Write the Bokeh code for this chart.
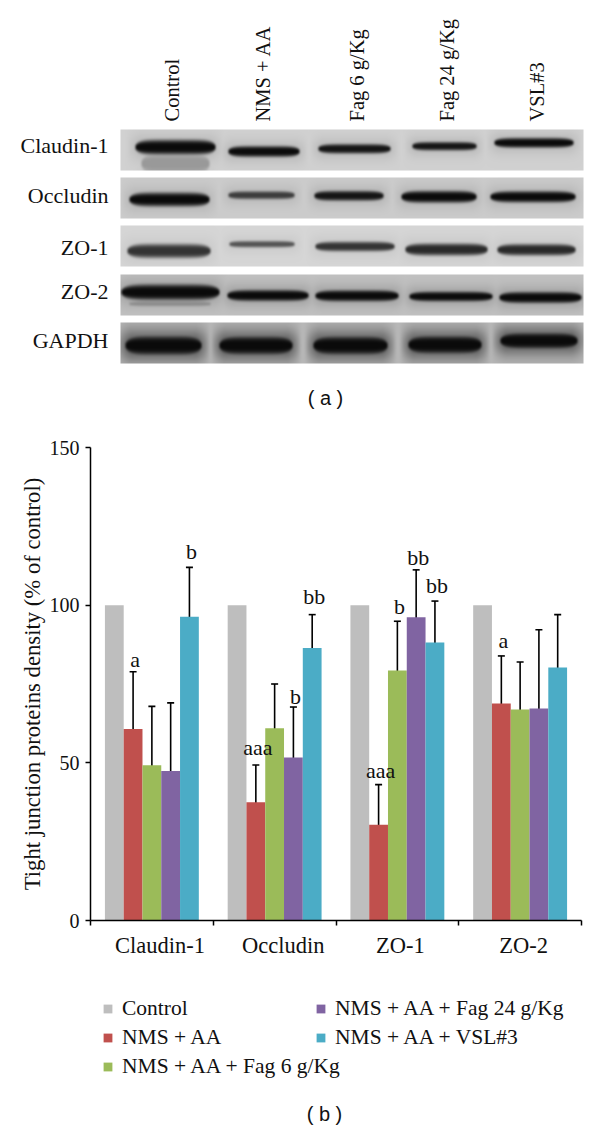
import numpy as np
from bokeh.plotting import figure
from bokeh.layouts import column
from bokeh.embed import file_html
from bokeh.resources import INLINE
from bokeh.core.properties import value
from bokeh.models import (Range1d, FixedTicker, Whisker, TeeHead, ColumnDataSource,
                          Legend, LegendItem)

# ---- chart (b) data
groups = ["Claudin-1", "Occludin", "ZO-1", "ZO-2"]
series = ["Control", "NMS + AA", "NMS + AA + Fag 6 g/Kg", "NMS + AA + Fag 24 g/Kg", "NMS + AA + VSL#3"]
colors = ["#BEBEBE", "#C0504D", "#9BBB59", "#8064A2", "#4BACC6"]
control = [100, 100, 100, 100]
nms_aa = [60.7, 37.5, 30.4, 68.8]
fag6 = [49.2, 61.0, 79.3, 66.9]
fag24 = [47.4, 51.7, 96.2, 67.2]
vsl3 = [96.3, 86.4, 88.2, 80.2]
err_high_nms = [78.9, 49.3, 43.1, 83.9]
err_high_fag6 = [67.9, 75.0, 94.9, 82.0]
err_high_fag24 = [69.0, 67.7, 111.2, 92.2]
err_high_vsl3 = [112.0, 97.0, 101.3, 97.0]
err_low_nms = [59.9, 36.5, 29.5, 67.8]
err_low_fag6 = [48.2, 60.1, 78.3, 66.0]
err_low_fag24 = [46.7, 50.9, 95.2, 66.1]
err_low_vsl3 = [95.4, 85.4, 87.2, 79.3]
# significance letters: group index, series index, letter, baseline height
sig_group = [0, 0, 1, 1, 1, 2, 2, 2, 2, 3]
sig_series = [1, 4, 1, 3, 4, 1, 2, 3, 4, 1]
sig_text = ["a", "b", "aaa", "b", "bb", "aaa", "b", "bb", "bb", "a"]
sig_y = [80.6, 114.7, 52.5, 68.7, 100.4, 45.4, 97.5, 112.8, 104.0, 86.6]
y_ticks = [0, 50, 100, 150]
group_label_pos = [0.567, 1.571, 2.525, 3.529]
group_edges = [0, 1, 2, 3, 4]

# ---- panel (a) data
lane_names = ["Control", "NMS + AA", "Fag 6 g/Kg", "Fag 24 g/Kg", "VSL#3"]
lane_x = [171, 262, 356, 446, 536]
protein_names = ["Claudin-1", "Occludin", "ZO-1", "ZO-2", "GAPDH"]
protein_y = [145, 195, 247, 291, 340]
panel_top = [129, 177, 225, 274, 322]
panel_bg = [0.82, 0.80, 0.84, 0.76, 0.72]
panel_halo = [0.12, 0.12, 0.08, 0.18, 0.55]
# x0, x1, y centre, half thickness, strength
bands_claudin = [(137, 213, 146.7, 6.5, 1.0), (230, 297, 151, 4.5, 1), (320, 388, 148.3, 3.8, .95),
                 (414, 474, 145.7, 3.3, .95), (496, 571, 142.3, 4, 1), (143, 207, 163, 9, .28)]
bands_occludin = [(131, 207, 199, 6, 1), (230, 292, 194.7, 3, .75), (316, 381, 195.3, 4, .95),
                  (403, 474, 196.3, 5, 1), (492, 573, 196.3, 4.7, 1)]
bands_zo1 = [(129, 208, 250.5, 6, .8), (231, 292, 243.7, 2.2, .65), (317, 392, 246, 3.8, .8),
             (407, 485, 249, 5, .85), (499, 573, 249.3, 4.7, .85)]
bands_zo2 = [(123, 217, 291.7, 7, 1), (229, 306, 295, 4.7, 1), (317, 396, 295.3, 4.7, 1),
             (411, 490, 296, 4, 1), (501, 579, 297, 4.7, 1), (131, 208, 303.3, 1.5, .3)]
bands_gapdh = [(127, 199, 345, 9.5, 1), (221, 290, 345, 9, 1), (315, 385, 345, 9, 1),
               (410, 479, 344.3, 8.7, 1), (502, 575, 340.3, 7.7, 1)]
all_bands = [bands_claudin, bands_occludin, bands_zo1, bands_zo2, bands_gapdh]

SERIF = "Liberation Serif"
SANS = "Liberation Sans"
PAGE_W = 584
TOP_H = 430
CHART_H = 545
LEG_H = 150

# ---- top figure: blot panel, drawn in page pixels
top = figure(width=PAGE_W, height=TOP_H, x_range=Range1d(0, PAGE_W), y_range=Range1d(0, TOP_H),
             output_backend="svg", toolbar_location=None, min_border=0)
top.frame_align = False
top.axis.visible = False
top.grid.visible = False
top.outline_line_color = None
def py(v):
    return TOP_H - v

def soften(a, passes=2):
    kernel = np.array([1, 2, 1]) / 4
    for _ in range(passes):
        a = np.apply_along_axis(lambda r: np.convolve(np.pad(r, 1, mode="edge"), kernel, mode="valid"), 0, a)
        a = np.apply_along_axis(lambda r: np.convolve(np.pad(r, 1, mode="edge"), kernel, mode="valid"), 1, a)
    return a

PANEL_X0, PANEL_W, PANEL_H = 120, 463, 41
for ptop, bg, halo_s, bands in zip(panel_top, panel_bg, panel_halo, all_bands):
    xs = np.arange(PANEL_W) + PANEL_X0 + 0.5
    ys = np.arange(PANEL_H) + ptop + 0.5
    X, Y = np.meshgrid(xs, ys)
    d = np.zeros_like(X)
    for x0, x1, yc, ht, s in bands:
        xc, hw = (x0 + x1) / 2, (x1 - x0) / 2 + 2
        taper = np.sqrt(np.clip(1 - np.abs((X - xc) / hw) ** 6, 0, 1))
        sy = np.exp(-(np.abs(Y - yc) / (ht * taper + 1.0)) ** 4) * (taper > 0)
        halo = np.exp(-(np.abs(Y - yc) / (ht + 7)) ** 2) * halo_s * np.clip(1.3 - np.abs((X - xc) / (hw + 6)) ** 4, 0, 1)
        d = np.maximum(d, np.maximum(s * sy, s * halo))
    img = bg * (1 - d) + 0.04 * d
    img = soften(img)
    g = (img * 255).astype(np.uint32)
    rgba = (255 << 24) | (g << 16) | (g << 8) | g
    top.image_rgba(image=[rgba[::-1]], x=PANEL_X0, y=py(ptop + PANEL_H), dw=PANEL_W, dh=PANEL_H)

top.text(x=[108] * 5, y=[py(v) for v in protein_y], text=protein_names, text_font=value(SERIF),
         text_font_size="22px", text_align="right", text_baseline="middle", text_color="#111111")
top.text(x=lane_x, y=[py(121)] * 5, text=lane_names, angle=np.pi / 2, text_font=value(SERIF),
         text_font_size="20.5px", text_align="left", text_baseline="middle", text_color="#111111")
top.text(x=[325], y=[py(397)], text=["( a )"], text_font=value(SANS), text_font_size="20px",
         text_align="center", text_baseline="middle", text_color="#111111")

# ---- chart figure
chart = figure(width=PAGE_W, height=CHART_H, x_range=Range1d(0, 4), y_range=Range1d(0, 150),
               output_backend="svg", toolbar_location=None,
               min_border_left=90, min_border_right=3, min_border_top=17, min_border_bottom=55)
chart.frame_align = False
chart.grid.visible = False
chart.outline_line_color = None

BAR_W = 0.153
offs = [(i - 2) * BAR_W for i in range(5)]
base_x = [i + 0.5 for i in range(4)]
for vals, off, col in zip([control, nms_aa, fag6, fag24, vsl3], offs, colors):
    src = ColumnDataSource(dict(x=[b + off for b in base_x], top=vals))
    chart.vbar(x="x", top="top", bottom=0, width=BAR_W, source=src, fill_color=col, line_color=None)

highs = [err_high_nms, err_high_fag6, err_high_fag24, err_high_vsl3]
lows = [err_low_nms, err_low_fag6, err_low_fag24, err_low_vsl3]
for hi, lo, off in zip(highs, lows, offs[1:]):
    src = ColumnDataSource(dict(x=[b + off for b in base_x], hi=hi, lo=lo))
    chart.add_layout(Whisker(base="x", upper="hi", lower="lo", source=src, line_color="#000000", line_width=1.6,
                             upper_head=TeeHead(size=7, line_color="#000000", line_width=1.6),
                             lower_head=TeeHead(size=7, line_color="#000000", line_width=1.6)))

chart.text(x=[base_x[g] + offs[s] for g, s in zip(sig_group, sig_series)], y=sig_y, text=sig_text,
           x_offset=2, y_offset=-7, text_font=value(SERIF), text_font_size="22px", text_align="center",
           text_baseline="alphabetic", text_color="#111111")

xa = chart.xaxis[0]
xa.ticker = FixedTicker(ticks=group_label_pos, minor_ticks=group_edges)
xa.major_label_overrides = dict(zip(group_label_pos, groups))
xa.major_tick_out = 0
xa.major_tick_in = 0
xa.minor_tick_out = 5
xa.minor_tick_in = 0
xa.minor_tick_line_color = "#000000"
xa.minor_tick_line_width = 1.5
xa.axis_line_width = 1.5
xa.axis_line_color = "#000000"
xa.major_label_standoff = 7
xa.major_label_text_font = SERIF
xa.major_label_text_font_size = "22.5px"
xa.major_label_text_color = "#111111"

ya = chart.yaxis[0]
ya.ticker = FixedTicker(ticks=y_ticks)
ya.major_tick_out = 5
ya.major_tick_in = 0
ya.minor_tick_line_color = None
ya.major_tick_line_width = 1.5
ya.axis_line_width = 1.5
ya.axis_line_color = "#000000"
ya.major_tick_line_color = "#000000"
ya.major_label_standoff = 6
ya.major_label_text_font = SERIF
ya.major_label_text_font_size = "20px"
ya.major_label_text_color = "#111111"
ya.axis_label = "Tight junction proteins density (% of control)"
ya.axis_label_text_font = SERIF
ya.axis_label_text_font_size = "22.7px"
ya.axis_label_text_font_style = "normal"
ya.axis_label_text_color = "#111111"
ya.axis_label_standoff = 2

# ---- legend figure
leg = figure(width=PAGE_W, height=LEG_H, x_range=Range1d(0, PAGE_W), y_range=Range1d(0, LEG_H),
             output_backend="svg", toolbar_location=None, min_border=0)
leg.frame_align = False
leg.axis.visible = False
leg.grid.visible = False
leg.outline_line_color = None
PAGE_LEG_TOP = TOP_H + CHART_H
swatches = [leg.vbar(x=[-100], top=[-100], bottom=-101, width=1, fill_color=c, line_color=None) for c in colors]

def make_legend(idx, lx, ty):
    return Legend(items=[LegendItem(label=series[i], renderers=[swatches[i]]) for i in idx],
                  location=(lx, LEG_H - ty), background_fill_alpha=0, border_line_color=None,
                  padding=0, margin=0, glyph_width=11, glyph_height=11, label_standoff=9, spacing=4,
                  label_height=20, label_text_font=SERIF, label_text_font_size="21.5px",
                  label_text_color="#111111")
leg.add_layout(make_legend([0, 1, 2], 102, 1079 - PAGE_LEG_TOP))
leg.add_layout(make_legend([3, 4], 315, 1050 - PAGE_LEG_TOP))
leg.text(x=[324], y=[LEG_H - (1113 - PAGE_LEG_TOP)], text=["( b )"], text_font=value(SANS), text_font_size="20px",
         text_align="center", text_baseline="middle", text_color="#111111")

page = column(top, chart, leg, spacing=0)
open("out.html", "w").write(file_html(page, INLINE))
